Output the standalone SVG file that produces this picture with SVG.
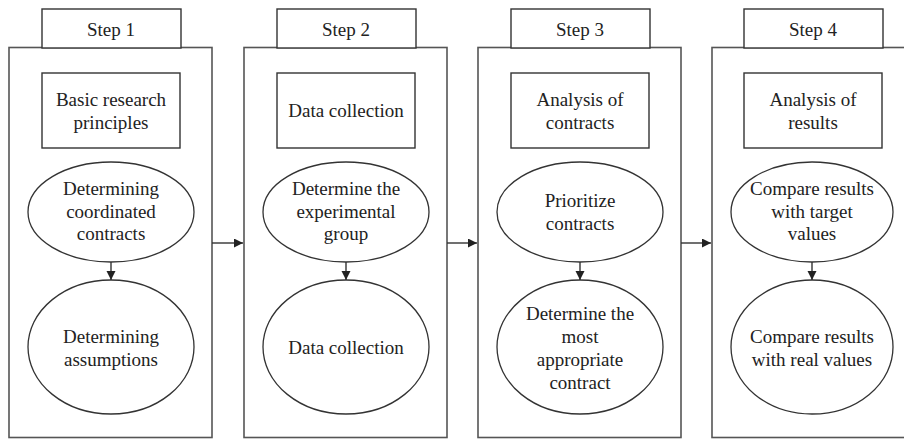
<svg xmlns="http://www.w3.org/2000/svg" width="904" height="439" viewBox="0 0 904 439">
<style>
.box{fill:#fff;stroke:#555;stroke-width:1.6}
.tab{fill:#fff;stroke:#333;stroke-width:1.4}
.rect{fill:#fff;stroke:#333;stroke-width:1.4}
.ell{fill:#fff;stroke:#333;stroke-width:1.3}
.con{stroke:#333;stroke-width:1.4;fill:none}
.t{font-family:"Liberation Serif",serif;font-size:19px;fill:#222;text-anchor:middle}
</style>
<defs>
<marker id="ah" markerUnits="userSpaceOnUse" markerWidth="10" markerHeight="10" refX="9" refY="4.5" orient="auto">
<path d="M0,0 L9,4.5 L0,9 z" fill="#222"/>
</marker>
</defs>
<rect width="904" height="439" fill="#fff"/>
<g id="step1">
<rect class="box" x="9" y="47.5" width="203" height="390"/>
<rect class="tab" x="42" y="9" width="139" height="39"/>
<text class="t" x="111" y="36" font-family="Liberation Serif">Step 1</text>
<rect class="rect" x="42" y="73" width="138" height="75"/>
<text class="t" x="111" y="106" font-family="Liberation Serif">Basic research</text>
<text class="t" x="111" y="129" font-family="Liberation Serif">principles</text>
<ellipse class="ell" cx="111" cy="212" rx="83" ry="50"/>
<text class="t" x="111" y="195" font-family="Liberation Serif">Determining</text>
<text class="t" x="111" y="218" font-family="Liberation Serif">coordinated</text>
<text class="t" x="111" y="240" font-family="Liberation Serif">contracts</text>
<ellipse class="ell" cx="111" cy="347" rx="83" ry="67"/>
<text class="t" x="111" y="343" font-family="Liberation Serif">Determining</text>
<text class="t" x="111" y="366" font-family="Liberation Serif">assumptions</text>
</g>
<g id="step2">
<rect class="box" x="244" y="47.5" width="203" height="390"/>
<rect class="tab" x="277" y="9" width="139" height="39"/>
<text class="t" x="346" y="36" font-family="Liberation Serif">Step 2</text>
<rect class="rect" x="277" y="73" width="138" height="75"/>
<text class="t" x="346" y="117" font-family="Liberation Serif">Data collection</text>
<ellipse class="ell" cx="346" cy="212" rx="83" ry="50"/>
<text class="t" x="346" y="195" font-family="Liberation Serif">Determine the</text>
<text class="t" x="346" y="218" font-family="Liberation Serif">experimental</text>
<text class="t" x="346" y="240" font-family="Liberation Serif">group</text>
<ellipse class="ell" cx="346" cy="347" rx="83" ry="67"/>
<text class="t" x="346" y="354" font-family="Liberation Serif">Data collection</text>
</g>
<g id="step3">
<rect class="box" x="478" y="47.5" width="203" height="390"/>
<rect class="tab" x="511" y="9" width="139" height="39"/>
<text class="t" x="580" y="36" font-family="Liberation Serif">Step 3</text>
<rect class="rect" x="511" y="73" width="138" height="75"/>
<text class="t" x="580" y="106" font-family="Liberation Serif">Analysis of</text>
<text class="t" x="580" y="129" font-family="Liberation Serif">contracts</text>
<ellipse class="ell" cx="580" cy="212" rx="83" ry="50"/>
<text class="t" x="580" y="207" font-family="Liberation Serif">Prioritize</text>
<text class="t" x="580" y="230" font-family="Liberation Serif">contracts</text>
<ellipse class="ell" cx="580" cy="347" rx="83" ry="67"/>
<text class="t" x="580" y="320" font-family="Liberation Serif">Determine the</text>
<text class="t" x="580" y="343" font-family="Liberation Serif">most</text>
<text class="t" x="580" y="366" font-family="Liberation Serif">appropriate</text>
<text class="t" x="580" y="389" font-family="Liberation Serif">contract</text>
</g>
<g id="step4">
<rect class="box" x="712" y="47.5" width="203" height="390"/>
<rect class="tab" x="744" y="9" width="139" height="39"/>
<text class="t" x="813" y="36" font-family="Liberation Serif">Step 4</text>
<rect class="rect" x="744" y="73" width="138" height="75"/>
<text class="t" x="813" y="106" font-family="Liberation Serif">Analysis of</text>
<text class="t" x="813" y="129" font-family="Liberation Serif">results</text>
<ellipse class="ell" cx="812" cy="212" rx="81" ry="50"/>
<text class="t" x="812" y="195" font-family="Liberation Serif">Compare results</text>
<text class="t" x="812" y="218" font-family="Liberation Serif">with target</text>
<text class="t" x="812" y="240" font-family="Liberation Serif">values</text>
<ellipse class="ell" cx="812" cy="347" rx="81" ry="67"/>
<text class="t" x="812" y="343" font-family="Liberation Serif">Compare results</text>
<text class="t" x="812" y="366" font-family="Liberation Serif">with real values</text>
</g>
<g id="connectors">
<line class="con" x1="212" y1="243" x2="243" y2="243" marker-end="url(#ah)"/>
<line class="con" x1="447" y1="243" x2="477" y2="243" marker-end="url(#ah)"/>
<line class="con" x1="681" y1="243" x2="711" y2="243" marker-end="url(#ah)"/>
<line class="con" x1="111" y1="262" x2="111" y2="280" marker-end="url(#ah)"/>
<line class="con" x1="346" y1="262" x2="346" y2="280" marker-end="url(#ah)"/>
<line class="con" x1="580" y1="262" x2="580" y2="280" marker-end="url(#ah)"/>
<line class="con" x1="812" y1="262" x2="812" y2="280" marker-end="url(#ah)"/>
</g>
</svg>
